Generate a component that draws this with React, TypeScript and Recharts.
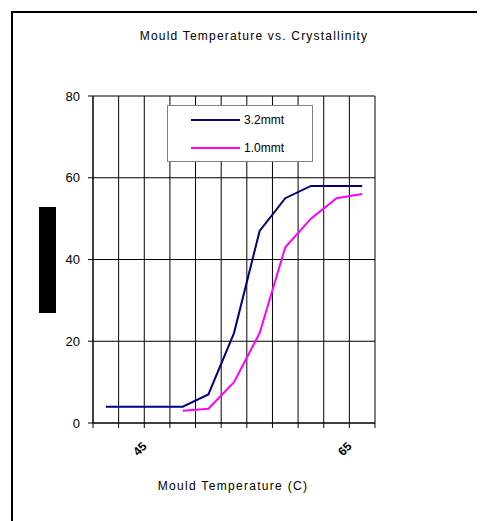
import { LineChart, Line, XAxis, YAxis, CartesianGrid } from 'recharts'

// Mould temperature categories (only two are labelled on the axis)
const categories = ['42.5', '45', '47.5', '50', '52.5', '55', '57.5', '60', '62.5', '65', '67.5']
const shownLabels = ['45', '65']
const thick = [4, 4, 4, 4, 7, 22, 47, 55, 58, 58, 58]
const thin = [null, null, null, 3, 3.5, 10, 22, 43, 50, 55, 56]
const yTicks = [0, 20, 40, 60, 80]

const data = categories.map((c, i) => ({
  x: i + 0.5,
  label: c,
  t32: thick[i],
  t10: thin[i],
}))

// category boundaries carry the grid and tick marks, centres carry the labels
const boundaries = categories.map((_, i) => i).concat([categories.length])
const labelCentres = categories
  .map((c, i) => (shownLabels.includes(c) ? i + 0.5 : -1))
  .filter((v) => v >= 0)
const xTicks = [...boundaries, ...labelCentres].sort((a, b) => a - b)

const FONT = '"Liberation Sans", Arial, sans-serif'

function XTick(props: any) {
  const { x, y, payload } = props
  const v = payload.value
  if (Number.isInteger(v)) {
    return <line x1={x} x2={x} y1={y} y2={y + 5} stroke="#000" strokeWidth={1} />
  }
  const px = x + 16
  const py = y + 24
  return (
    <text
      x={px}
      y={py}
      transform={`rotate(-45 ${px} ${py})`}
      textAnchor="end"
      fontSize={12}
      fontWeight="bold"
      fill="#000"
      fontFamily={FONT}
    >
      {categories[Math.floor(v)]}
    </text>
  )
}

function LegendBox() {
  const row = (color: string, name: string) => (
    <div style={{ display: 'flex', alignItems: 'center', height: 28 }}>
      <div style={{ width: 49, height: 2, background: color, marginLeft: 23, marginRight: 4 }} />
      <span style={{ fontSize: 12, fontFamily: FONT }}>{name}</span>
    </div>
  )
  return (
    <div
      style={{
        position: 'absolute',
        left: 159,
        top: 97,
        width: 146,
        height: 57,
        border: '1px solid #808080',
        background: '#fff',
        boxSizing: 'border-box',
        zIndex: 2,
      }}
    >
      {row('#000080', '3.2mmt')}
      {row('#ff00ff', '1.0mmt')}
    </div>
  )
}

export default function App() {
  return (
    <div style={{ position: 'relative', width: 477, height: 513, fontFamily: FONT, overflow: 'hidden' }}>
      <div
        style={{
          position: 'absolute',
          left: 3,
          top: 3,
          width: 600,
          height: 600,
          borderTop: '2px solid #000',
          borderLeft: '2px solid #000',
        }}
      />
      <div
        style={{
          position: 'absolute',
          left: 0,
          width: 492,
          top: 21,
          textAlign: 'center',
          fontSize: 12,
          letterSpacing: 1.2,
        }}
      >
        Mould Temperature vs. Crystallinity
      </div>
      <div
        style={{
          position: 'absolute',
          left: 31,
          top: 199,
          width: 17,
          height: 106,
          background: '#000',
          color: '#000',
          fontSize: 11,
          overflow: 'hidden',
          writingMode: 'vertical-rl',
          transform: 'rotate(180deg)',
        }}
      >
        Crystallinity (%)
      </div>
      <div
        style={{
          position: 'absolute',
          left: 0,
          width: 450,
          top: 471,
          textAlign: 'center',
          fontSize: 12,
          letterSpacing: 1.3,
        }}
      >
        Mould Temperature (C)
      </div>
      <LegendBox />
      <div style={{ position: 'absolute', left: 0, top: 0 }}>
        <LineChart
          width={477}
          height={513}
          data={data}
          margin={{ top: 88, right: 110, bottom: 50, left: 45 }}
        >
          <CartesianGrid
            stroke="#000"
            strokeWidth={1}
            horizontal={true}
            vertical={true}
            verticalCoordinatesGenerator={({ offset }: any) =>
              boundaries.map((t) => offset.left + (t * offset.width) / categories.length)
            }
          />
          <XAxis
            dataKey="x"
            type="number"
            domain={[0, categories.length]}
            ticks={xTicks}
            interval={0}
            tick={<XTick />}
            tickLine={false}
            tickSize={0}
            tickMargin={0}
            height={48}
            stroke="#000"
            allowDataOverflow
          />
          <YAxis
            domain={[0, 80]}
            ticks={yTicks}
            width={40}
            stroke="#000"
            tickSize={5}
            tickMargin={8}
            tick={{ fill: '#000', fontSize: 13, fontFamily: FONT }}
          />
          <Line
            dataKey="t32"
            name="3.2mmt"
            stroke="#000080"
            strokeWidth={2}
            dot={false}
            isAnimationActive={false}
          />
          <Line
            dataKey="t10"
            name="1.0mmt"
            stroke="#ff00ff"
            strokeWidth={2}
            dot={false}
            isAnimationActive={false}
          />
        </LineChart>
      </div>
    </div>
  )
}
